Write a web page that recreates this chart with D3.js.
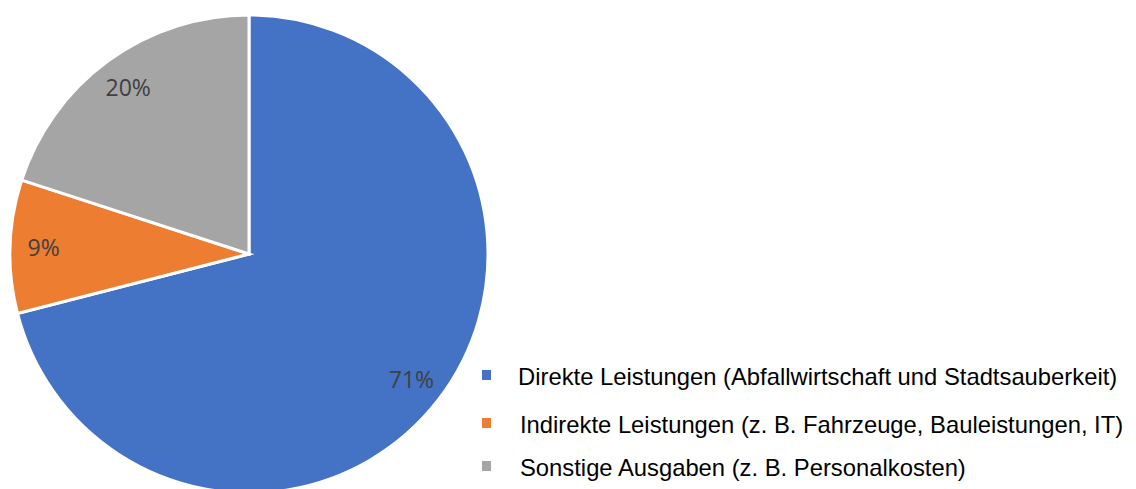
<!DOCTYPE html>
<html lang="de">
<head>
<meta charset="UTF-8">
<title>Ausgaben</title>
<script src="https://d3js.org/d3.v7.min.js"></script>
<style>
    body { margin: 0; background: #fff; }
    .label { font-family: "Open Sans", sans-serif; font-size: 23px; fill: #404040; }
    .legend text { font-family: "Liberation Sans", Arial, sans-serif; font-size: 23.8px; fill: #000; }
</style>
</head>
<body>
<svg id="chart"></svg>
<script>
// data
var categories = [
    "Direkte Leistungen (Abfallwirtschaft und Stadtsauberkeit)",
    "Indirekte Leistungen (z. B. Fahrzeuge, Bauleistungen, IT)",
    "Sonstige Ausgaben (z. B. Personalkosten)"
];
var shares = [71, 9, 20];
var colors = ["#4472C4", "#ED7D31", "#A5A5A5"];

var width = 1136, height = 489;
var cx = 249, cy = 254, radius = 239;

var svg = d3.select("#chart")
    .attr("width", width)
    .attr("height", height);

var data = categories.map((c, i) => ({ name: c, value: shares[i], color: colors[i] }));

var pie = d3.pie().sort(null).value(d => d.value);
var arc = d3.arc().innerRadius(0).outerRadius(radius);
var labelArc = d3.arc().innerRadius(radius * 0.86).outerRadius(radius * 0.86);

var g = svg.append("g").attr("transform", "translate(" + cx + "," + cy + ")");

var arcs = pie(data);

g.selectAll("path")
    .data(arcs)
    .enter().append("path")
    .attr("d", arc)
    .attr("fill", d => d.data.color)
    .attr("stroke", "#fff")
    .attr("stroke-width", 3);

g.selectAll("text.label")
    .data(arcs)
    .enter().append("text")
    .attr("class", "label")
    .attr("transform", d => "translate(" + labelArc.centroid(d) + ")")
    .attr("text-anchor", "middle")
    .attr("dy", "0.36em")
    .text(d => d.value + "%");

// legend
var legend = svg.append("g").attr("class", "legend");
var rowY = [376, 424, 467];
var item = legend.selectAll("g")
    .data(data)
    .enter().append("g")
    .attr("transform", (d, i) => "translate(482," + rowY[i] + ")");

item.append("rect")
    .attr("x", 0).attr("y", -6)
    .attr("width", 9).attr("height", 10)
    .attr("fill", d => d.color);

item.append("text")
    .attr("x", (d, i) => i === 0 ? 36 : 38)
    .attr("dy", "0.36em")
    .text(d => d.name);
</script>
</body>
</html>
